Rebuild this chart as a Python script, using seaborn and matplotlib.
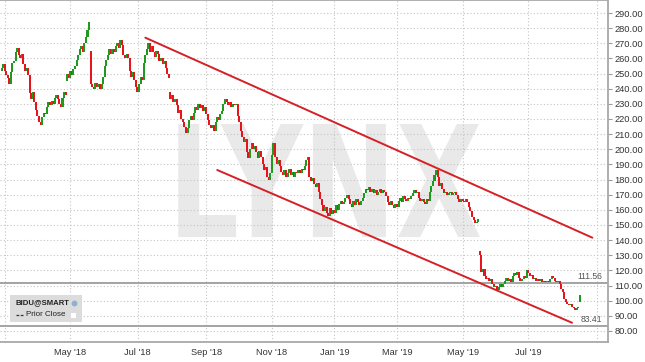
import numpy as np
import pandas as pd
import matplotlib
matplotlib.use("Agg")
import matplotlib.pyplot as plt
import seaborn as sns
from matplotlib.textpath import TextPath
from matplotlib.font_manager import FontProperties
from matplotlib.patches import PathPatch, Rectangle
from matplotlib.path import Path

# ---------------- data ----------------
holidays = ["2018-03-30", "2018-05-28", "2018-07-04", "2018-09-03", "2018-11-22",
            "2018-12-05", "2018-12-25", "2019-01-01", "2019-01-21", "2019-02-18",
            "2019-04-19", "2019-05-27", "2019-07-04", "2019-09-02"]
start_date = "2018-02-27"
axis_end_date = "2019-09-30"

closes = [
    254, 256, 252, 249, 247, 243, 251, 257, 258, 264,
    267, 262, 260, 263, 256, 252, 254, 249, 237, 233,
    238, 231, 226, 222, 218, 216, 221, 224, 223, 228,
    231, 229, 232, 230, 234, 236, 233, 230, 228, 234,
    238, 236, 250, 247, 252, 249, 253, 255, 259, 262,
    266, 268, 264, 270, 274, 279, 284, 243, 241, 240,
    244, 241, 243, 240, 243, 248, 255, 259, 262, 266,
    263, 266, 264, 268, 270, 267, 272, 269, 262, 260,
    263, 260, 252, 248, 251, 246, 241, 238, 243, 248,
    246, 257, 262, 266, 270, 264, 268, 264, 261, 265,
    263, 258, 260, 256, 258, 254, 250, 247, 233, 236,
    231, 233, 229, 224, 226, 220, 218, 215, 211, 214,
    219, 222, 219, 224, 228, 226, 230, 227, 229, 225,
    228, 223, 219, 216, 214, 216, 212, 218, 221, 219,
    223, 225, 230, 233, 231, 229, 231, 228, 230, 229,
    230, 222, 218, 212, 208, 205, 207, 198, 194, 200,
    204, 200, 202, 198, 194, 199, 195, 190, 186, 188,
    182, 180, 184, 196, 204, 195, 190, 193, 189, 185,
    183, 186, 182, 184, 187, 183, 185, 182, 185, 184,
    186, 184, 187, 186, 189, 193, 195, 182, 179, 181,
    177, 175, 178, 172, 167, 163, 159, 162, 158, 156,
    161, 157, 160, 158, 163, 160, 164, 166, 164, 165,
    168, 170, 167, 164, 162, 166, 163, 167, 165, 163,
    166, 168, 171, 174, 173, 175, 172, 174, 171, 173,
    170, 172, 174, 171, 173, 172, 169, 165, 163, 166,
    163, 161, 164, 162, 166, 168, 165, 169, 167, 166,
    168, 167, 169, 171, 173, 171, 172, 168, 166, 167,
    165, 164, 167, 166, 172, 176, 179, 183, 186, 182,
    176, 178, 174, 171, 172, 170, 171, 172, 170, 171,
    172, 170, 167, 165, 167, 166, 165, 167, 165, 162,
    159, 155, 153, 151, 152, 154, 130, 119, 121, 116,
    114, 115, 113, 114, 111, 109, 110, 107, 109, 111,
    109, 111, 113, 115, 113, 114, 112, 116, 118, 117,
    119, 115, 113, 114, 116, 115, 120, 118, 116, 117,
    114, 115, 113, 114, 113, 114, 112, 113, 112, 113,
    112, 114, 116, 115, 113, 112, 113, 111, 108, 106,
    101, 99, 98, 97, 98, 96, 95, 94, 95, 96,
    104,
]
first_open = 252
# opening prices of the candles that opened with a gap (candle number -> open)
gap_opens = {42: 245, 57: 265, 108: 238, 306: 133, 370: 99}

upper_channel_dates = ["2018-07-10", "2019-08-28"]
upper_channel_values = [273.7, 141.6]
lower_channel_dates = ["2018-09-13", "2019-08-09"]
lower_channel_values = [186.3, 85.4]

levels = [111.56, 83.41]
level_labels = ["111.56", "83.41"]
y_ticks = list(range(80, 300, 10))
month_labels = ["May '18", "Jul '18", "Sep '18", "Nov '18", "Jan '19", "Mar '19", "May '19", "Jul '19"]
symbol = "BIDU@SMART"
legend_entry = "Prior Close"

# ---------------- derived tables ----------------
hol = pd.to_datetime(holidays)
all_days = pd.bdate_range(start_date, axis_end_date)
all_days = all_days[~all_days.isin(hol)]
n = len(closes)

c = np.array(closes, dtype=float)
o = np.r_[first_open, c[:-1]]
for k, v in gap_opens.items():
    o[k] = v
df = pd.DataFrame({"pos": np.arange(n), "open": o, "close": c})
df["up"] = df["close"] >= df["open"]


def date_pos(dstr):
    return float(all_days.searchsorted(pd.Timestamp(dstr)))


month_first = pd.Series(np.arange(len(all_days)), index=all_days)
firsts = month_first.groupby([all_days.year, all_days.month]).min()
grid_pos = [int(firsts[(y, m)]) for (y, m) in firsts.index if m % 2 == 1]
label_pos = [int(firsts[(y, m)]) for (y, m) in firsts.index
             if m % 2 == 1 and not (y == 2018 and m == 3) and not (y == 2019 and m == 9)]

# ---------------- style ----------------
sns.set_theme(style="white")
plt.rcParams["font.family"] = ["Liberation Sans", "DejaVu Sans"]

fig = plt.figure(figsize=(6.45, 3.62), dpi=100)
ax = fig.add_axes([0.0, 20 / 362, 608 / 645, 342 / 362])
ax.set_facecolor("white")

px_per = 1.563
ax.set_xlim(-1.534 / px_per, (608 - 1.534) / px_per)
ax.set_ylim(72.69, 298.59)

# watermark
tp = TextPath((0, 0), "LYNX", size=1, prop=FontProperties(family="DejaVu Sans", weight="bold"))
v = tp.vertices.copy()
vmin, vmax = v.min(axis=0), v.max(axis=0)
bx0, bx1 = (168 - 1.534) / px_per, (480 - 1.534) / px_per
by0, by1 = 142.0, 216.7
v[:, 0] = bx0 + (v[:, 0] - vmin[0]) / (vmax[0] - vmin[0]) * (bx1 - bx0)
v[:, 1] = by0 + (v[:, 1] - vmin[1]) / (vmax[1] - vmin[1]) * (by1 - by0)
ax.add_patch(PathPatch(Path(v, tp.codes), facecolor="#e9e9e9", edgecolor="none", zorder=0))

# grid
grid_kw = dict(color="#c4c4c4", lw=0.8, linestyle=(0, (1, 2)), zorder=1)
for yv in y_ticks:
    ax.axhline(yv, **grid_kw)
for gp in grid_pos:
    ax.axvline(gp, **grid_kw)

# level lines
for lv, lt in zip(levels, level_labels):
    ax.axhline(lv, color="#9c9c9c", lw=1.3, zorder=2)
    ax.text((602 - 1.534) / px_per, lv + 1.2, lt, ha="right", va="bottom",
            fontsize=6.2, color="#555555", zorder=6)

# candles
red, green = "#e8141c", "#1e9a1e"
body_bottom = np.minimum(df["open"], df["close"])
body_h = np.maximum(np.abs(df["close"] - df["open"]), 0.6)
ax.bar(df["pos"], body_h, bottom=body_bottom, width=1.3,
       color=np.where(df["up"], green, red), linewidth=0, zorder=4)

# channel lines
ch = pd.DataFrame({
    "x": [date_pos(d) for d in upper_channel_dates] + [date_pos(d) for d in lower_channel_dates],
    "y": upper_channel_values + lower_channel_values,
    "line": ["upper", "upper", "lower", "lower"],
})
sns.lineplot(data=ch, x="x", y="y", units="line", estimator=None, color="#d42026",
             lw=1.4, ax=ax, zorder=5, legend=False)

# axes styling
ax.yaxis.tick_right()
ax.set_yticks(y_ticks)
ax.set_yticklabels([f"{t:.2f}" for t in y_ticks])
ax.set_xticks(label_pos)
ax.set_xticklabels(month_labels[:len(label_pos)])
ax.tick_params(axis="y", which="both", right=True, left=False, length=3, width=0.8,
               color="#999999", pad=1.5, labelsize=6.7, labelcolor="#333333")
ax.tick_params(axis="x", which="both", bottom=False, length=0, pad=4,
               labelsize=6.7, labelcolor="#333333")
ax.set_xlabel("")
ax.set_ylabel("")
ax.spines["left"].set_visible(False)
for s in ["right", "bottom", "top"]:
    ax.spines[s].set_visible(True)
    ax.spines[s].set_color("#a8a8a8")
    ax.spines[s].set_linewidth(1.3)


def fx(px):
    return px / 645


def fy(py):
    return 1 - py / 362


fig.patches.append(Rectangle((fx(10), fy(322)), 72 / 645, 27 / 362, transform=fig.transFigure,
                             facecolor="#dcdcdc", edgecolor="none", zorder=10))
fig.text(fx(15), fy(302.5), symbol, fontsize=5.6, fontweight="bold", color="#222222",
         va="center", ha="left", zorder=11)
fig.add_artist(plt.Line2D([fx(73.5)], [fy(302.5)], marker="o", markersize=3.2,
                          color="#8fb0d0", transform=fig.transFigure, zorder=11))
fig.add_artist(plt.Line2D([fx(16), fx(24)], [fy(314.5), fy(314.5)], color="#333333",
                          lw=0.9, linestyle=(0, (2.2, 1.2)), transform=fig.transFigure, zorder=11))
fig.text(fx(26), fy(314.5), legend_entry, fontsize=5.8, color="#222222",
         va="center", ha="left", zorder=11)
fig.patches.append(Rectangle((fx(71), fy(317.5)), 5 / 645, 5 / 362, transform=fig.transFigure,
                             facecolor="white", edgecolor="none", zorder=11))

fig.savefig("out.png", dpi=100)
